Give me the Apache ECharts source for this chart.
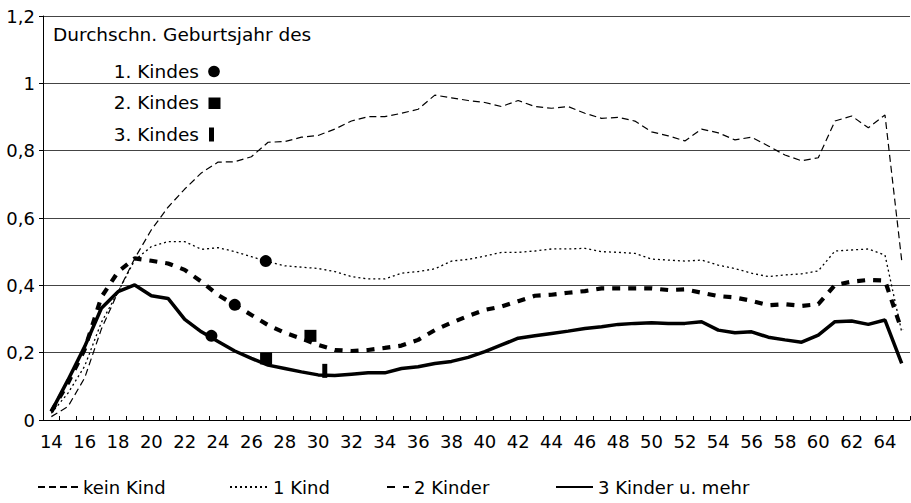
<!DOCTYPE html>
<html>
<head>
<meta charset="utf-8">
<script src="https://cdn.jsdelivr.net/npm/echarts@6/dist/echarts.min.js"></script>
<style>
html,body{margin:0;padding:0;background:#fff;}
#chart{width:911px;height:503px;}
</style>
</head>
<body>
<div id="chart"></div>
<script>
// ---- data ----
var ages = [];
for (var a = 14; a <= 65; a++) ages.push(String(a));

var keinKind = [0.01,0.04,0.125,0.27,0.38,0.48,0.565,0.632,0.686,0.734,0.766,0.767,0.782,0.825,0.827,0.84,0.845,0.864,0.888,0.901,0.901,0.911,0.923,0.965,0.957,0.949,0.943,0.931,0.949,0.931,0.926,0.931,0.911,0.896,0.899,0.888,0.856,0.844,0.829,0.864,0.853,0.832,0.84,0.814,0.787,0.77,0.779,0.888,0.903,0.868,0.906,0.475];
var einKind = [0.02,0.08,0.16,0.29,0.38,0.475,0.515,0.53,0.53,0.507,0.512,0.5,0.485,0.47,0.458,0.454,0.45,0.441,0.426,0.419,0.419,0.436,0.441,0.449,0.472,0.477,0.487,0.498,0.498,0.502,0.508,0.508,0.51,0.5,0.498,0.495,0.478,0.475,0.472,0.475,0.46,0.45,0.436,0.426,0.431,0.434,0.443,0.502,0.505,0.508,0.49,0.262];
var zweiKinder = [0.025,0.11,0.21,0.365,0.44,0.48,0.473,0.465,0.446,0.411,0.371,0.342,0.312,0.282,0.259,0.242,0.223,0.208,0.205,0.208,0.214,0.221,0.238,0.267,0.289,0.309,0.327,0.337,0.353,0.369,0.372,0.378,0.383,0.391,0.391,0.391,0.391,0.386,0.388,0.378,0.368,0.364,0.354,0.341,0.344,0.339,0.344,0.401,0.411,0.416,0.414,0.267];
var dreiKinder = [0.025,0.119,0.218,0.332,0.381,0.401,0.369,0.361,0.299,0.262,0.233,0.205,0.183,0.163,0.153,0.143,0.134,0.132,0.136,0.14,0.14,0.153,0.158,0.168,0.174,0.186,0.203,0.223,0.243,0.25,0.257,0.264,0.272,0.277,0.284,0.287,0.289,0.287,0.287,0.292,0.267,0.259,0.262,0.246,0.238,0.231,0.252,0.292,0.294,0.284,0.297,0.168];

// mean birth age markers [age, value]
var firstChild = [[26.86,0.472],[25.0,0.342],[23.6,0.25]];
var secondChild = [[29.54,0.25],[26.88,0.183]];
var thirdChild = [[30.4,0.146]];

var seriesNames = ['kein Kind','1 Kind','2 Kinder','3 Kinder u. mehr'];
var noteTitle = 'Durchschn. Geburtsjahr des';
var noteLabels = ['1. Kindes','2. Kindes','3. Kindes'];
var yTicks = {min:0, max:1.2, interval:0.2};

// ---- chart ----
var FONT = 'DejaVu Sans';
var chart = echarts.init(document.getElementById('chart'), null, {renderer:'svg'});

function legendAt(name, left, w) {
  return {
    data:[name], left:left, top:475, padding:[2,2,2,2], itemWidth:w, itemHeight:14,
    textStyle:{fontFamily:FONT, fontSize:18, color:'#000', lineHeight:20},
    itemStyle:{opacity:0}
  };
}

var option = {
  animation:false,
  backgroundColor:'#fff',
  textStyle:{fontFamily:FONT},
  grid:{left:43, right:1, top:16, bottom:83, containLabel:false},
  legend:[
    legendAt(seriesNames[0], 35, 40),
    legendAt(seriesNames[1], 227, 38),
    legendAt(seriesNames[2], 384, 22),
    legendAt(seriesNames[3], 553, 37)
  ],
  xAxis:[{
    type:'category', data:ages, boundaryGap:true,
    axisLine:{lineStyle:{color:'#000', width:1}},
    axisTick:{show:true, inside:true, length:4, interval:0, lineStyle:{color:'#000'}},
    axisLabel:{interval:1, margin:12, fontFamily:FONT, fontSize:18, color:'#000'},
    splitLine:{show:false}
  },{
    type:'value', min:13.5, max:65.5, show:false
  }],
  yAxis:{
    type:'value', min:yTicks.min, max:yTicks.max, interval:yTicks.interval,
    axisLine:{show:true, lineStyle:{color:'#000', width:1}},
    axisTick:{show:true, length:4, lineStyle:{color:'#000'}},
    axisLabel:{margin:8, fontFamily:FONT, fontSize:18, color:'#000',
      formatter:function(v){ return String(+v.toFixed(1)).replace('.', ','); }},
    splitLine:{show:true, lineStyle:{color:'#444', width:1}}
  },
  series:[
    {name:seriesNames[0], type:'line', data:keinKind, symbol:'none', z:3,
      lineStyle:{color:'#000', width:1.2, type:[7,4]}, itemStyle:{color:'#000'}},
    {name:seriesNames[1], type:'line', data:einKind, symbol:'none', z:3,
      lineStyle:{color:'#000', width:1.3, type:[2,3]}, itemStyle:{color:'#000'}},
    {name:seriesNames[2], type:'line', data:zweiKinder, symbol:'none', z:4,
      lineStyle:{color:'#000', width:4.2, type:[8,8]}, itemStyle:{color:'#000'}},
    {name:seriesNames[3], type:'line', data:dreiKinder, symbol:'none', z:4,
      lineStyle:{color:'#000', width:3.5, type:'solid'}, itemStyle:{color:'#000'}},
    {name:noteLabels[0], type:'scatter', xAxisIndex:1, data:firstChild, symbol:'circle', symbolSize:12, z:6,
      itemStyle:{color:'#000', opacity:1}},
    {name:noteLabels[1], type:'scatter', xAxisIndex:1, data:secondChild, symbol:'rect', symbolSize:12, z:6,
      itemStyle:{color:'#000', opacity:1}},
    {name:noteLabels[2], type:'scatter', xAxisIndex:1, data:thirdChild, symbol:'rect', symbolSize:[5,14], z:6,
      itemStyle:{color:'#000', opacity:1}}
  ],
  graphic:[
    {type:'text', left:53, top:25, style:{text:noteTitle, font:'18.5px "DejaVu Sans"', fill:'#000'}},
    {type:'text', x:199, y:71, style:{text:noteLabels[0], font:'18.5px "DejaVu Sans"', fill:'#000', align:'right', verticalAlign:'middle'}},
    {type:'text', x:199, y:102, style:{text:noteLabels[1], font:'18.5px "DejaVu Sans"', fill:'#000', align:'right', verticalAlign:'middle'}},
    {type:'text', x:199, y:134, style:{text:noteLabels[2], font:'18.5px "DejaVu Sans"', fill:'#000', align:'right', verticalAlign:'middle'}},
    {type:'circle', shape:{cx:214, cy:71.5, r:5.8}, style:{fill:'#000'}},
    {type:'rect', shape:{x:208.5, y:97.5, width:12, height:11.5}, style:{fill:'#000'}},
    {type:'rect', shape:{x:209, y:127.5, width:5, height:14}, style:{fill:'#000'}}
  ]
};
chart.setOption(option);
</script>
</body>
</html>
